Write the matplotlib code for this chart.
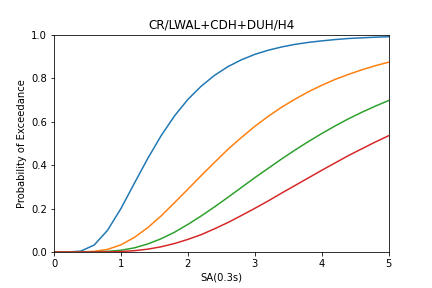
import numpy as np
import matplotlib
matplotlib.use('Agg')
import matplotlib.pyplot as plt

# spectral acceleration values (g)
sa = [0.0, 0.2, 0.4, 0.6, 0.8, 1.0, 1.2, 1.4, 1.6, 1.8, 2.0, 2.2, 2.4,
      2.6, 2.8, 3.0, 3.2, 3.4, 3.6, 3.8, 4.0, 4.2, 4.4, 4.6, 4.8, 5.0]

# probability of exceedance per damage state
slight = [0.0, 0.0, 0.004, 0.032, 0.100, 0.200, 0.316, 0.430, 0.535, 0.626,
          0.702, 0.763, 0.813, 0.853, 0.884, 0.909, 0.928, 0.943, 0.955,
          0.964, 0.971, 0.977, 0.982, 0.985, 0.988, 0.990]
moderate = [0.0, 0.0, 0.0002, 0.003, 0.012, 0.033, 0.067, 0.112, 0.166, 0.227,
            0.289, 0.352, 0.413, 0.473, 0.527, 0.578, 0.624, 0.666, 0.703,
            0.737, 0.767, 0.794, 0.817, 0.838, 0.857, 0.873]
extensive = [0.0, 0.0, 0.0, 0.0004, 0.003, 0.008, 0.019, 0.037, 0.061, 0.091,
             0.127, 0.166, 0.208, 0.252, 0.297, 0.342, 0.385, 0.428, 0.469,
             0.508, 0.545, 0.580, 0.613, 0.643, 0.671, 0.697]
complete = [0.0, 0.0, 0.0, 0.0, 0.0006, 0.002, 0.006, 0.013, 0.024, 0.039,
            0.058, 0.080, 0.107, 0.136, 0.168, 0.201, 0.235, 0.271, 0.306,
            0.341, 0.376, 0.410, 0.444, 0.475, 0.506, 0.535]

fig, ax = plt.subplots(figsize=(6, 4), dpi=72)
fig.subplots_adjust(bottom=0.125)
for curve in [slight, moderate, extensive, complete]:
    ax.plot(sa, curve)

ax.set_xlim(0, 5)
ax.set_ylim(0, 1)
ax.set_xlabel('SA(0.3s)')
ax.set_ylabel('Probability of Exceedance')
ax.set_title('CR/LWAL+CDH+DUH/H4')

plt.savefig('out.png', dpi=72)
